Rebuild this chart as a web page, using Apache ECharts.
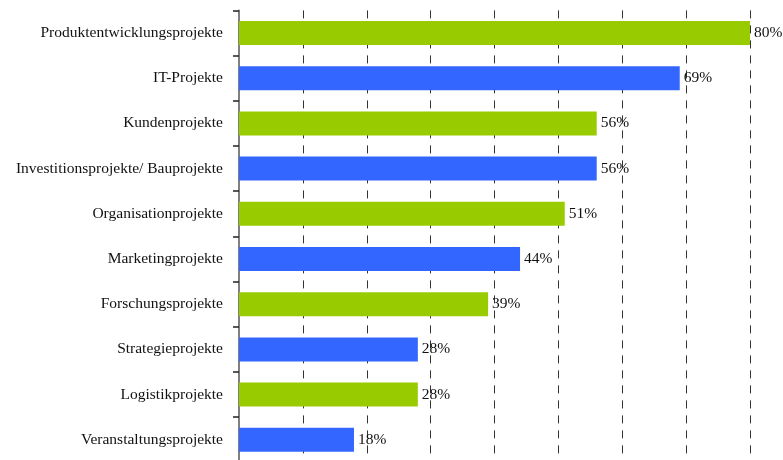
<!DOCTYPE html>
<html>
<head>
<meta charset="utf-8">
<script src="https://cdn.jsdelivr.net/npm/echarts@6/dist/echarts.min.js"></script>
<style>
html,body{margin:0;padding:0;background:#fff;overflow:hidden;}
#chart{width:783px;height:470px;}
</style>
</head>
<body>
<div id="chart"></div>
<script>
var categories = [
  "Produktentwicklungsprojekte",
  "IT-Projekte",
  "Kundenprojekte",
  "Investitionsprojekte/ Bauprojekte",
  "Organisationprojekte",
  "Marketingprojekte",
  "Forschungsprojekte",
  "Strategieprojekte",
  "Logistikprojekte",
  "Veranstaltungsprojekte"
];
var values = [80, 69, 56, 56, 51, 44, 39, 28, 28, 18];
var barColors = ["#99CC00", "#3366FF"];

var chart = echarts.init(document.getElementById('chart'));
var fontFam = '"Liberation Serif", serif';
chart.setOption({
  animation: false,
  backgroundColor: '#ffffff',
  grid: { left: 239, right: 33, top: 10.4, height: 452, containLabel: false },
  xAxis: {
    type: 'value', min: 0, max: 80, interval: 10,
    axisLine: { show: false }, axisTick: { show: false }, axisLabel: { show: false },
    splitLine: { show: true, lineStyle: { color: '#333', width: 1, type: [8, 7] } }
  },
  yAxis: {
    type: 'category', inverse: true, data: categories,
    axisLine: { show: true, lineStyle: { color: '#808080', width: 2 } },
    axisTick: { show: true, inside: false, length: 6, lineStyle: { color: '#222', width: 1.5 } },
    axisLabel: { color: '#111', fontFamily: fontFam, fontSize: 15.5, margin: 16 },
    splitLine: { show: false }
  },
  series: [{
    type: 'bar',
    data: values.map(function (v, i) { return { value: v, itemStyle: { color: barColors[i % 2] } }; }),
    barWidth: 24,
    label: {
      show: true, position: 'right', distance: 4,
      formatter: '{c}%', color: '#111', fontFamily: fontFam, fontSize: 15.5
    }
  }]
});
</script>
</body>
</html>
